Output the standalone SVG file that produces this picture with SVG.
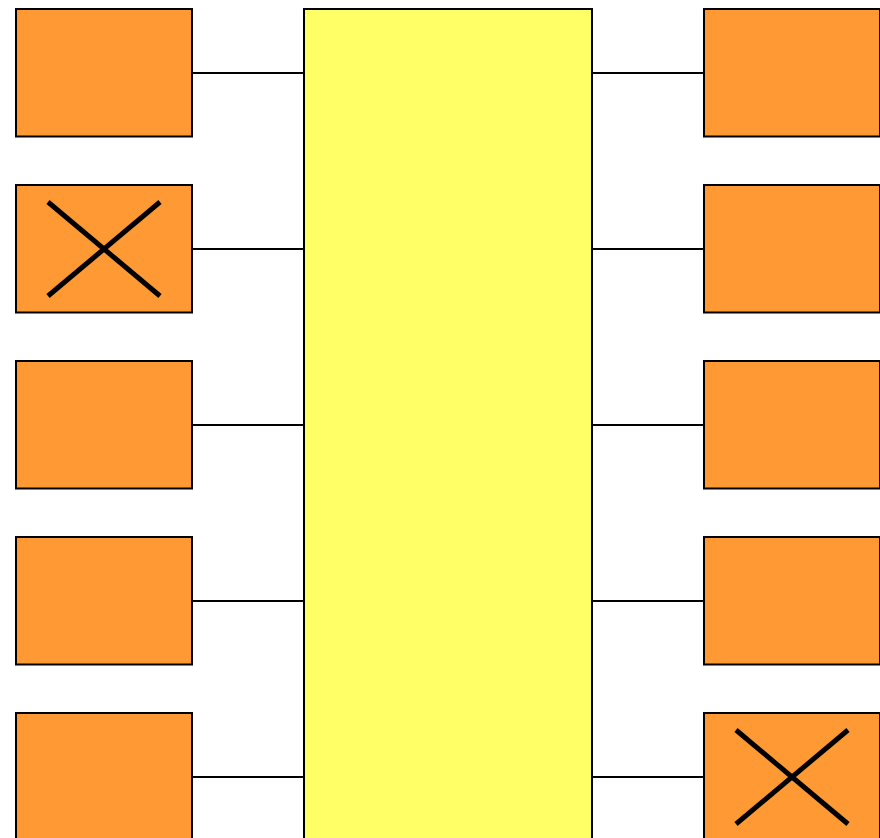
<svg xmlns="http://www.w3.org/2000/svg" width="880" height="838" viewBox="0 0 880 838">
<style>
.box{fill:#ff9933;stroke:#000;stroke-width:2}
.bus{fill:#ffff66;stroke:#000;stroke-width:2}
.conn line{stroke:#000;stroke-width:2}
.x{stroke:#000;stroke-width:5}
</style>
<rect width="880" height="838" fill="#fff"/>
<g id="connectors" class="conn">
<line x1="192" y1="73" x2="304" y2="73"/>
<line x1="192" y1="249" x2="304" y2="249"/>
<line x1="192" y1="425" x2="304" y2="425"/>
<line x1="192" y1="601" x2="304" y2="601"/>
<line x1="192" y1="777" x2="304" y2="777"/>
<line x1="592" y1="73" x2="704" y2="73"/>
<line x1="592" y1="249" x2="704" y2="249"/>
<line x1="592" y1="425" x2="704" y2="425"/>
<line x1="592" y1="601" x2="704" y2="601"/>
<line x1="592" y1="777" x2="704" y2="777"/>
</g>
<g id="bus"><rect class="bus" x="304" y="9" width="288" height="840"/></g>
<g id="L1"><rect class="box" x="16" y="9" width="176" height="127.5"/></g>
<g id="L2"><rect class="box" x="16" y="185" width="176" height="127.5"/>
<line class="x" x1="48" y1="202" x2="160" y2="296"/><line class="x" x1="48" y1="296" x2="160" y2="202"/></g>
<g id="L3"><rect class="box" x="16" y="361" width="176" height="127.5"/></g>
<g id="L4"><rect class="box" x="16" y="537" width="176" height="127.5"/></g>
<g id="L5"><rect class="box" x="16" y="713" width="176" height="127.5"/></g>
<g id="R1"><rect class="box" x="704" y="9" width="176" height="127.5"/></g>
<g id="R2"><rect class="box" x="704" y="185" width="176" height="127.5"/></g>
<g id="R3"><rect class="box" x="704" y="361" width="176" height="127.5"/></g>
<g id="R4"><rect class="box" x="704" y="537" width="176" height="127.5"/></g>
<g id="R5"><rect class="box" x="704" y="713" width="176" height="127.5"/>
<line class="x" x1="736" y1="730" x2="848" y2="824"/><line class="x" x1="736" y1="824" x2="848" y2="730"/></g>
</svg>
